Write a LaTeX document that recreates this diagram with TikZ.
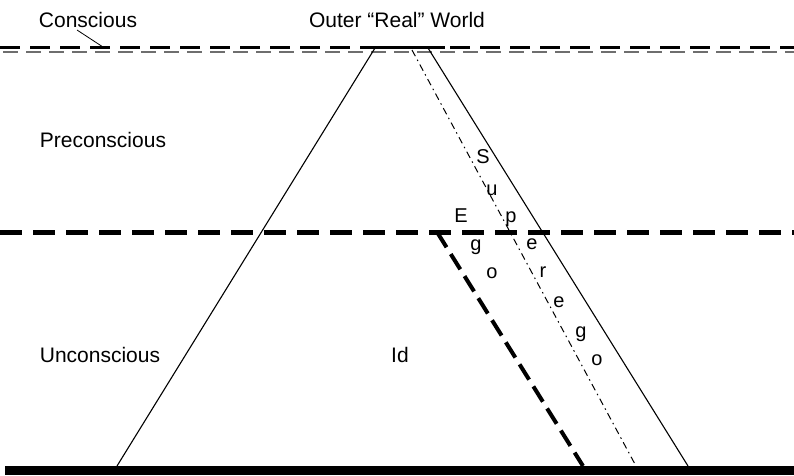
\documentclass[tikz,border=0pt]{standalone}
\usepackage{fontspec}
\setmainfont{Liberation Sans}
\usetikzlibrary{calc}
\definecolor{thinline}{RGB}{110,110,110}

\begin{document}
\begin{tikzpicture}[x=1pt,y=-1pt,
  every node/.style={font=\fontsize{21}{24}\selectfont,inner sep=0pt},
  letter/.style={font=\fontsize{20}{22}\selectfont,anchor=base},
  lvl/.style={line width=5pt,dash pattern=on 22pt off 11pt},
  lvltop/.style={line width=3pt,dash pattern=on 20pt off 10pt},
  lvlthin/.style={thinline,line width=1.2pt,dash pattern=on 15pt off 8pt},
  wall/.style={line width=1.1pt}]
  \useasboundingbox (0,0) rectangle (794,475);
  % levels
  \coordinate (tl) at (0,47); \coordinate (tr) at (794,47);
  \coordinate (ml) at (0,232); \coordinate (mr) at (794,232);
  \coordinate (bl) at (5,470); \coordinate (br) at (794,470);
  \draw[lvltop] (tl) -- (tr);
  \draw[lvlthin] ($(tl)+(3,5)$) -- ($(tr)+(0,5)$);
  \draw[lvl] (ml) -- (mr);
  \draw[line width=9pt] (bl) -- (br);
  % the mind
  \coordinate (a) at (375,48); \coordinate (b) at (428,48);
  \coordinate (c) at (688,466); \coordinate (d) at (117,466);
  \coordinate (s1) at (412,50); \coordinate (s2) at (636,466);
  \coordinate (e1) at (437,232); \coordinate (e2) at (583,466);
  \draw[line width=3pt] (362,47) -- (445,47);
  \draw[wall] (a) -- (d);
  \draw[wall] (b) -- (c);
  \draw[line width=1pt,dash pattern=on 7pt off 4pt on 1.5pt off 4pt] (s1) -- (s2);
  \draw[line width=4pt,dash pattern=on 18pt off 8pt] (e1) -- (e2);
  % labels
  \node[anchor=base] (con) at (88,27) {Conscious};
  \coordinate (cl) at (103,47);
  \draw[line width=0.8pt] (77,30) -- (cl);
  \node[anchor=base] (outer) at (397,27) {Outer \textquotedblleft Real\textquotedblright\ World};
  \node[anchor=base] (pre) at (103,147) {Preconscious};
  \node[anchor=base] (unc) at (100,362) {Unconscious};
  \node[anchor=base] (id) at (400,362) {Id};
  \foreach \l/\x/\y [count=\i] in {E/461/222,g/476/250,o/492/278}
    \node[letter] (ego\i) at (\x,\y) {\l};
  \foreach \l/\x/\y [count=\i] in {S/483/163,u/492/195,p/511/222,e/532/249,r/543/277,e/559/307,g/581/337,o/597/365}
    \node[letter] (sup\i) at (\x,\y) {\l};
\end{tikzpicture}
\end{document}
